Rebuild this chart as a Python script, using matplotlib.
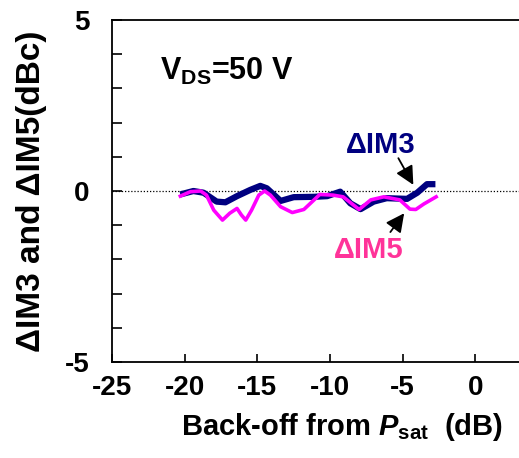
import numpy as np
import matplotlib
matplotlib.use('Agg')
import matplotlib.pyplot as plt
from matplotlib.ticker import MultipleLocator, FuncFormatter

# data
im3_x = [-20.3, -19.4, -18.7, -17.8, -17.2, -16.4, -15.5, -14.8, -14.35, -13.4, -12.5,
         -11.1, -10.2, -9.3, -8.6, -7.9, -7.0, -6.1, -4.7, -4.0, -3.33, -2.75]
im3_y = [-0.10, 0.00, -0.05, -0.31, -0.33, -0.15, 0.03, 0.15, 0.08, -0.29, -0.18,
         -0.17, -0.15, -0.02, -0.36, -0.53, -0.31, -0.21, -0.23, -0.05, 0.20, 0.20]

im5_x = [-20.3, -19.6, -18.9, -18.5, -18.0, -17.4, -16.9, -16.4, -16.1, -15.8, -15.4,
         -14.9, -14.5, -14.1, -13.4, -12.6, -11.8, -10.7, -9.8, -9.1, -8.0, -7.2,
         -6.3, -5.2, -4.5, -4.1, -3.55, -2.7]
im5_y = [-0.15, -0.02, 0.00, -0.12, -0.56, -0.85, -0.65, -0.51, -0.70, -0.85, -0.56,
         -0.12, 0.00, -0.12, -0.46, -0.63, -0.54, -0.10, -0.12, -0.17, -0.54, -0.26,
         -0.17, -0.26, -0.53, -0.54, -0.38, -0.17]

plt.rcParams['font.family'] = 'Liberation Sans'
plt.rcParams['font.weight'] = 'bold'
plt.rcParams['axes.unicode_minus'] = False
plt.rcParams['mathtext.fontset'] = 'custom'
plt.rcParams['mathtext.rm'] = 'Liberation Sans:bold'
plt.rcParams['mathtext.it'] = 'Liberation Sans:bold:italic'
plt.rcParams['mathtext.bf'] = 'Liberation Sans:bold'

fig = plt.figure(figsize=(5.19, 4.58), dpi=100)
ax = fig.add_axes([0.2158, 0.2096, 0.7842, 0.7467])

ax.axhline(0, color='black', linestyle=(0, (1, 1.5)), linewidth=0.9, zorder=1)
ax.plot(im3_x, im3_y, color='#000080', linewidth=4.5, solid_capstyle='butt', zorder=2)
ax.plot(im5_x, im5_y, color='#FF00FF', linewidth=2.6, zorder=3)

ax.set_xlim(-25, 3)
ax.set_ylim(-5, 5)

ax.spines['right'].set_visible(False)
for s in ['left', 'top', 'bottom']:
    ax.spines[s].set_linewidth(1.3)

ax.xaxis.set_major_locator(MultipleLocator(5))
ax.yaxis.set_major_locator(MultipleLocator(1))
ax.yaxis.set_major_formatter(FuncFormatter(lambda v, p: '%d' % round(v) if round(v) % 5 == 0 else ''))
ax.tick_params(axis='y', direction='in', length=7, width=1.2, pad=16, labelsize=20)
ax.tick_params(axis='x', direction='in', length=6, width=1.2, pad=9, labelsize=20)
ax.tick_params(right=False, top=False)

fig.text(0.659, 1 - 411 / 458, r'Back-off from $\mathit{P}_{\mathrm{sat}}$  (dB)',
         fontsize=21, fontweight='bold', ha='center', va='top')
ax.set_ylabel('ΔIM3 and ΔIM5(dBc)', fontsize=24, fontweight='bold', labelpad=13)

ax.text(-21.7, 3.5, r'V$_{\mathrm{DS}}$=50 V', fontsize=22, va='center', ha='left')

ax.text(-6.54, 1.35, 'ΔIM3', color='#000080', fontsize=21, ha='center', va='center')
ax.text(-7.37, -1.72, 'ΔIM5', color='#FF3399', fontsize=21, ha='center', va='center')

arrow = dict(arrowstyle='-|>', color='black', lw=1.3, mutation_scale=28, shrinkA=0, shrinkB=0)
ax.annotate('', xy=(-4.27, 0.18), xytext=(-5.3, 0.96), arrowprops=arrow)
ax.annotate('', xy=(-4.9, -0.65), xytext=(-5.85, -1.2), arrowprops=arrow)

fig.savefig('out.png', dpi=100)
